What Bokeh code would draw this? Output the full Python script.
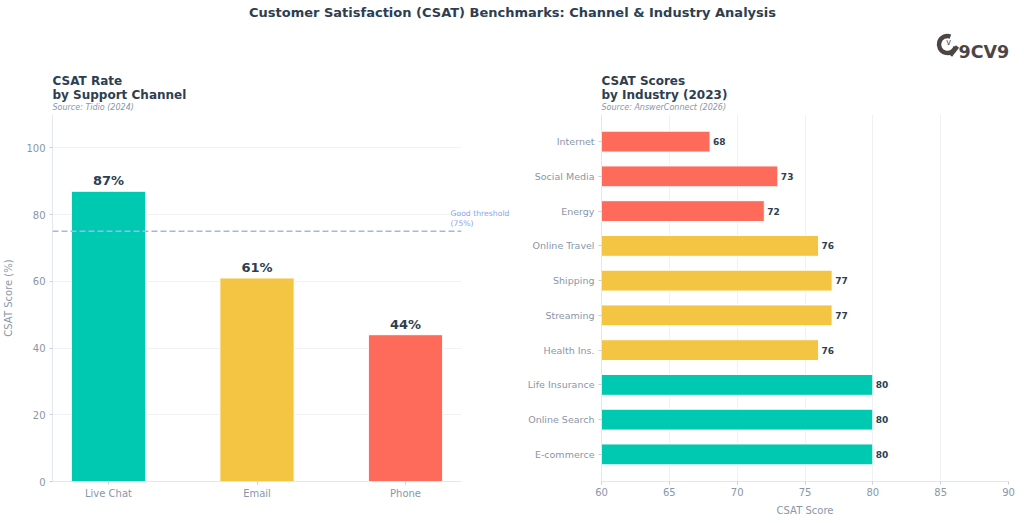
import math
from bokeh.plotting import figure
from bokeh.layouts import column, row
from bokeh.models import Range1d, FixedTicker, LinearAxis, Span, ColumnDataSource
from bokeh.core.properties import value
from bokeh.embed import file_html
from bokeh.resources import INLINE

# ---- data ----
channels = ["Live Chat", "Email", "Phone"]
channel_csat = [87, 61, 44]

industries = ["Internet", "Social Media", "Energy", "Online Travel", "Shipping",
              "Streaming", "Health Ins.", "Life Insurance", "Online Search", "E-commerce"]
industry_csat = [68, 73, 72, 76, 77, 77, 76, 80, 80, 80]

good_threshold = 75
x_ticks_industry = [60, 65, 70, 75, 80, 85, 90]
y_ticks_channel = [0, 20, 40, 60, 80, 100]

TEAL, YELLOW, CORAL = "#00C9B1", "#F4C542", "#FF6B5B"
DARK = "#2D3E50"
GREY = "#8A96A8"
GRID = "#EEF1F5"
FONT = "DejaVu Sans"


def industry_color(v):
    if v >= 80:
        return TEAL
    if v >= 75:
        return YELLOW
    return CORAL


def style_axes(p):
    for ax in (p.xaxis[0], p.yaxis[0]):
        ax.axis_line_color = "#E3E8EF"
        ax.major_tick_line_color = "#C9D0DA"
        ax.minor_tick_line_color = None
        ax.major_tick_out = 3
        ax.major_tick_in = 0
        ax.major_label_text_color = GREY
        ax.major_label_text_font = FONT
        ax.major_label_text_font_size = "10px"
        ax.axis_label_text_color = GREY
        ax.axis_label_text_font = FONT
        ax.axis_label_text_font_size = "10px"
        ax.axis_label_text_font_style = "normal"
    p.outline_line_color = None
    p.background_fill_color = "white"
    p.border_fill_color = "white"


# ---- header: main title, logo, panel titles ----
hdr = figure(width=1024, height=114, x_range=Range1d(0, 1024), y_range=Range1d(114, 0),
             min_border=0, toolbar_location=None, output_backend="svg")
hdr.axis.visible = False
hdr.grid.visible = False
hdr.outline_line_color = None

hdr.text(x=[512], y=[12], text=["Customer Satisfaction (CSAT) Benchmarks: Channel & Industry Analysis"],
         text_font=value(FONT), text_font_size="13px", text_font_style="bold",
         text_color=DARK, text_align="center", text_baseline="middle")
hdr.text(x=[52, 52, 601, 601], y=[80, 94, 80, 94],
         text=["CSAT Rate", "by Support Channel", "CSAT Scores", "by Industry (2023)"],
         text_font=value(FONT), text_font_size="12px", text_font_style="bold",
         text_color=DARK, text_align="left", text_baseline="middle")
hdr.text(x=[52, 601], y=[107, 107], text=["Source: Tidio (2024)", "Source: AnswerConnect (2026)"],
         text_font=value(FONT), text_font_size="8px", text_font_style="italic",
         text_color=GREY, text_align="left", text_baseline="middle")

# logo: open ring with a tail, a small "v" and the wordmark
LOGO = "#4D4545"
hdr.arc(x=[947], y=[44], radius=8.5, radius_units="screen",
        start_angle=[math.radians(-15)], end_angle=[math.radians(70)], direction="clock",
        line_color=LOGO, line_width=4.5)
hdr.line(x=[950, 957], y=[55, 46], line_color=LOGO, line_width=4)
hdr.text(x=[948], y=[42], text=["v"], text_font=value(FONT), text_font_size="8px",
         text_color=LOGO, text_align="center", text_baseline="middle")
hdr.text(x=[958], y=[51.5], text=["9CV9"], text_font=value(FONT), text_font_size="17.5px",
         text_font_style="bold", text_color=LOGO, text_align="left", text_baseline="middle")

# ---- left: CSAT by support channel ----
xs = list(range(len(channels)))
src1 = ColumnDataSource(dict(x=xs, top=channel_csat, color=[TEAL, YELLOW, CORAL],
                             label=[f"{v}%" for v in channel_csat]))

p1 = figure(width=512, height=409, x_range=Range1d(-0.377, 2.377), y_range=Range1d(0, 110),
            min_border_left=52, min_border_right=51, min_border_top=0, min_border_bottom=42,
            toolbar_location=None, output_backend="svg")
style_axes(p1)
p1.xgrid.visible = False
p1.ygrid.grid_line_color = GRID
p1.ygrid.ticker = FixedTicker(ticks=y_ticks_channel)
p1.yaxis.ticker = FixedTicker(ticks=y_ticks_channel)
p1.xaxis.ticker = FixedTicker(ticks=xs)
p1.xaxis.major_label_overrides = {i: c for i, c in enumerate(channels)}
p1.xaxis.major_label_standoff = 3
p1.yaxis.major_label_standoff = 4
p1.yaxis.axis_label = "CSAT Score (%)"
p1.yaxis.axis_label_standoff = 9

p1.vbar(x="x", top="top", width=0.5, fill_color="color", line_color="white",
        line_width=1, source=src1)
p1.text(x="x", y="top", text="label", source=src1, y_offset=-3,
        text_font=value(FONT), text_font_size="13px", text_font_style="bold",
        text_color=DARK, text_align="center", text_baseline="bottom")

p1.add_layout(Span(location=good_threshold, dimension="width", line_color="#A3B4EE",
                   line_dash="6 3", line_width=1.5))

# threshold note: a bare right-hand axis whose single tick sits a little above the line
p1.extra_y_ranges = {"note": Range1d(-3.8, 110 - 3.8)}
note_axis = LinearAxis(y_range_name="note", ticker=FixedTicker(ticks=[good_threshold]),
                       major_label_overrides={good_threshold: "Good threshold\n(75%)"},
                       axis_line_color=None, major_tick_line_color=None,
                       minor_tick_line_color=None, major_tick_out=0, major_tick_in=0,
                       major_label_standoff=-11, major_label_text_font=FONT,
                       major_label_text_font_size="7.7px", major_label_text_color="#8FA3EE")
p1.add_layout(note_axis, "right")

# ---- right: CSAT by industry ----
ys = list(range(len(industries)))[::-1]
src2 = ColumnDataSource(dict(y=ys, right=industry_csat,
                             color=[industry_color(v) for v in industry_csat],
                             label=[str(v) for v in industry_csat]))

p2 = figure(width=512, height=409, x_range=Range1d(60, 90), y_range=Range1d(-0.78, 9.78),
            min_border_left=89, min_border_right=16, min_border_top=0, min_border_bottom=42,
            toolbar_location=None, output_backend="svg")
style_axes(p2)
p2.ygrid.visible = False
p2.xgrid.grid_line_color = GRID
p2.xgrid.ticker = FixedTicker(ticks=x_ticks_industry)
p2.xaxis.ticker = FixedTicker(ticks=x_ticks_industry)
p2.yaxis.ticker = FixedTicker(ticks=ys)
p2.yaxis.major_label_overrides = {y: n for y, n in zip(ys, industries)}
p2.yaxis.major_label_text_font_size = "9.5px"
p2.yaxis.major_label_standoff = 4
p2.xaxis.major_label_standoff = 3
p2.xaxis.axis_label = "CSAT Score"
p2.xaxis.axis_label_standoff = 6

p2.hbar(y="y", left=60, right="right", height=0.6, fill_color="color",
        line_color="white", line_width=1, source=src2)
p2.text(x="right", y="y", text="label", source=src2, x_offset=3,
        text_font=value(FONT), text_font_size="9px", text_font_style="bold",
        text_color=DARK, text_align="left", text_baseline="middle")

layout = column(hdr, row(p1, p2, spacing=0), spacing=0)
open("out.html", "w").write(file_html(layout, INLINE))
